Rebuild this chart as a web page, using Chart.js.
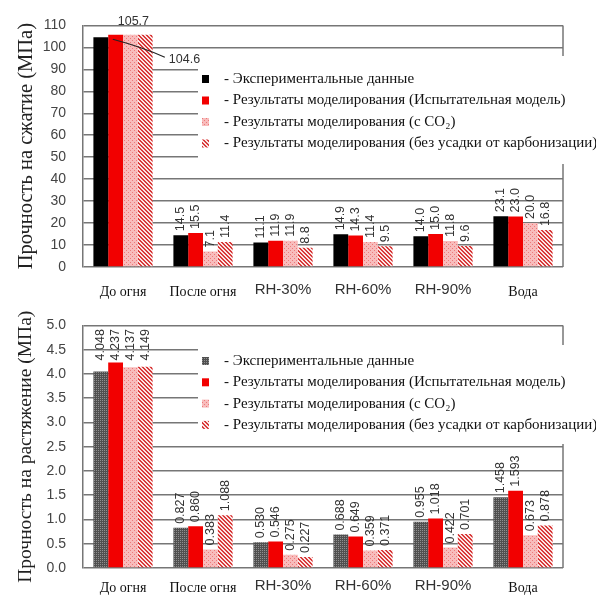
<!DOCTYPE html>
<html>
<head>
<meta charset="utf-8">
<script src="https://cdn.jsdelivr.net/npm/chart.js@4.4.1/dist/chart.umd.min.js"></script>
<style>
  html, body { margin: 0; padding: 0; background: #fff; width: 596px; height: 598px; overflow: hidden; }
  .panel { position: absolute; left: 0; width: 596px; height: 300px; }
</style>
</head>
<body>
<div class="panel" style="top:0"><canvas id="compChart" width="596" height="300"></canvas></div>
<div class="panel" style="top:300px"><canvas id="tensChart" width="596" height="298"></canvas></div>
<script>
// ---- data ----
const categories = ['До огня', 'После огня', 'RH-30%', 'RH-60%', 'RH-90%', 'Вода'];
const seriesNames = [
  'Экспериментальные данные',
  'Результаты моделирования (Испытательная модель)',
  'Результаты моделирования (с CO₂)',
  'Результаты моделирования (без усадки от карбонизации)'
];
// compressive strength, MPa
const compExperiment = [104.6, 14.5, 11.1, 14.9, 14.0, 23.1];
const compModel      = [105.7, 15.5, 11.9, 14.3, 15.0, 23.0];
const compWithCO2    = [105.7, 7.1, 11.9, 11.4, 11.8, 20.0];
const compNoShrink   = [105.7, 11.4, 8.8, 9.5, 9.6, 16.8];
// tensile strength, MPa
const tensExperiment = [4.048, 0.827, 0.530, 0.688, 0.955, 1.458];
const tensModel      = [4.237, 0.860, 0.546, 0.649, 1.018, 1.593];
const tensWithCO2    = [4.137, 0.383, 0.275, 0.359, 0.422, 0.673];
const tensNoShrink   = [4.149, 1.088, 0.227, 0.371, 0.701, 0.878];
// axis ranges
const compAxis = { min: 0, max: 110, step: 10, title: 'Прочность на сжатие (МПа)' };
const tensAxis = { min: 0, max: 5, step: 0.5, title: 'Прочность на растяжение (МПа)' };

// ---- fills ----
const GRID = '#767676';
function tile(w, h, paint) {
  const c = document.createElement('canvas');
  c.width = w; c.height = h;
  const g = c.getContext('2d');
  paint(g, w, h);
  return g.createPattern(c, 'repeat');
}
const pinkDots = tile(4, 4, (g) => {
  g.fillStyle = '#f8bcbc'; g.fillRect(0, 0, 4, 4);
  g.fillStyle = '#ec7a7a'; g.fillRect(0, 0, 1, 1); g.fillRect(2, 2, 1, 1);
});
const redHatch = tile(4, 4, (g) => {
  g.fillStyle = '#fbe4e4'; g.fillRect(0, 0, 4, 4);
  g.fillStyle = '#d83a3a';
  for (let i = 0; i < 4; i++) { g.fillRect(i, i, 1, 1); g.fillRect(i, (i + 1) % 4, 1, 1); }
});
const greyDots = tile(2, 2, (g) => {
  g.fillStyle = '#505050'; g.fillRect(0, 0, 2, 2);
  g.fillStyle = '#909090'; g.fillRect(0, 0, 1, 1);
});
const RED = '#f20000';

// ---- plugins ----
const frameAndLegend = {
  id: 'frameAndLegend',
  beforeDatasetsDraw(chart, args, opts) {
    const { ctx, chartArea: a } = chart;
    ctx.save();
    ctx.strokeStyle = GRID; ctx.lineWidth = 1.5;
    ctx.beginPath(); ctx.moveTo(a.right, a.top); ctx.lineTo(a.right, a.bottom); ctx.stroke();
    const b = opts.box;
    ctx.fillStyle = '#fff';
    ctx.fillRect(b.x, b.y, b.w, b.h);
    ctx.font = '15px "Liberation Serif"';
    ctx.textBaseline = 'middle'; ctx.textAlign = 'left';
    chart.data.datasets.forEach((ds, i) => {
      const y = b.firstRow + i * b.rowGap;
      ctx.fillStyle = ds.backgroundColor;
      ctx.fillRect(b.markerX, y - 4, 7, 8);
      ctx.fillStyle = '#111';
      ctx.fillText('- ' + ds.label, b.textX, y);
    });
    ctx.restore();
  }
};

const valueLabels = {
  id: 'valueLabels',
  afterDatasetsDraw(chart, args, opts) {
    const { ctx, chartArea: a } = chart;
    ctx.save();
    ctx.font = '12.5px "Liberation Sans"';
    ctx.fillStyle = '#333';
    chart.data.datasets.forEach((ds, i) => {
      const meta = chart.getDatasetMeta(i);
      meta.data.forEach((bar, j) => {
        if (opts.callout && j === 0) return;
        const txt = ds.data[j].toFixed(opts.digits);
        const w = ctx.measureText(txt).width;
        let anchor = bar.y - 4;
        if (anchor - w < a.top + 20) anchor = a.top + 35;
        ctx.save();
        ctx.translate(bar.x, anchor);
        ctx.rotate(-Math.PI / 2);
        ctx.textAlign = 'left'; ctx.textBaseline = 'middle';
        ctx.fillText(txt, 0, 0);
        ctx.restore();
      });
    });
    if (opts.callout) {
      const first = chart.getDatasetMeta(0).data[0];
      const rest = [1, 2, 3].map(k => chart.getDatasetMeta(k).data[0]);
      const cx = (rest[0].x + rest[2].x) / 2 + 3;
      const topY = Math.min(...rest.map(r => r.y));
      ctx.textAlign = 'center'; ctx.textBaseline = 'middle';
      ctx.fillText(chart.data.datasets[1].data[0].toFixed(1), cx, topY - 13);
      // leader from the experimental bar to its value
      const sx = first.x + 12, sy = first.y + 2;
      ctx.strokeStyle = '#222'; ctx.lineWidth = 1.2;
      ctx.beginPath(); ctx.moveTo(sx, sy);
      ctx.quadraticCurveTo(sx + 30, sy + 8, sx + 52, sy + 18);
      ctx.stroke();
      ctx.textAlign = 'left';
      ctx.fillText(chart.data.datasets[0].data[0].toFixed(1), sx + 56, sy + 20);
    }
    ctx.restore();
  }
};

// ---- chart factory ----
function buildChart(id, series, fills, axis, o) {
  return new Chart(document.getElementById(id), {
    type: 'bar',
    data: {
      labels: categories,
      datasets: series.map((vals, i) => ({
        label: seriesNames[i],
        data: vals,
        backgroundColor: fills[i],
        borderWidth: 0,
        categoryPercentage: 0.74,
        barPercentage: 1.0
      }))
    },
    options: {
      responsive: false,
      animation: false,
      events: [],
      layout: { padding: { top: 22, right: 33, left: 0, bottom: 0 } },
      plugins: {
        legend: { display: false },
        tooltip: { enabled: false },
        frameAndLegend: { box: o.box },
        valueLabels: { digits: o.digits, callout: o.callout }
      },
      scales: {
        x: {
          grid: { display: false },
          border: { display: false },
          ticks: {
            autoSkip: false, maxRotation: 0,
            padding: o.xPad,
            color: (c) => categories[c.index] && categories[c.index].startsWith('RH') ? '#333' : '#111',
            font: (c) => categories[c.index] && categories[c.index].startsWith('RH')
              ? { family: 'Liberation Sans', size: 15, lineHeight: 1.0 }
              : { family: 'Liberation Serif', size: 14, lineHeight: 1.45 }
          },
          afterFit: (s) => { s.height = o.xHeight; }
        },
        y: {
          min: axis.min, max: axis.max,
          ticks: {
            stepSize: axis.step, padding: 17, color: '#444',
            font: { family: 'Liberation Sans', size: 14 },
            callback: (v) => o.digits === 3 ? Number(v).toFixed(1) : String(v)
          },
          grid: { color: GRID, lineWidth: 1.5, drawTicks: false },
          border: { display: true, color: GRID, width: 1.5 },
          title: {
            display: true, text: axis.title, color: '#222',
            font: { family: 'Liberation Serif', size: o.titleSize },
            padding: { top: 14, bottom: 0 }
          },
          afterFit: (s) => { s.width = 83; }
        }
      }
    },
    plugins: [frameAndLegend, valueLabels]
  });
}

buildChart('compChart',
  [compExperiment, compModel, compWithCO2, compNoShrink],
  ['#000', RED, pinkDots, redHatch],
  compAxis,
  { digits: 1, callout: true, xPad: 7, xHeight: 33, titleSize: 20.5,
    box: { x: 198, y: 56, w: 398, h: 108, markerX: 202, textX: 224, firstRow: 79, rowGap: 21.5 } });

buildChart('tensChart',
  [tensExperiment, tensModel, tensWithCO2, tensNoShrink],
  [greyDots, RED, pinkDots, redHatch],
  tensAxis,
  { digits: 3, callout: false, xPad: 2, xHeight: 30, titleSize: 19.5,
    box: { x: 198, y: 45, w: 398, h: 99, markerX: 202, textX: 224, firstRow: 61, rowGap: 21.3 } });
</script>
</body>
</html>
